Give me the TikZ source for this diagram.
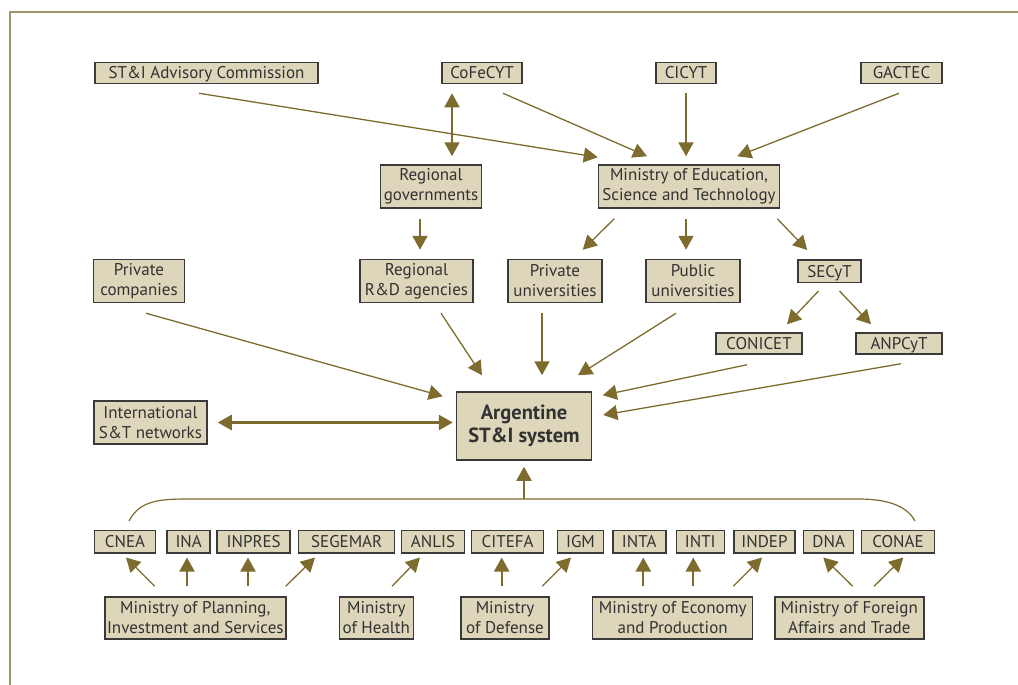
\documentclass[tikz,border=0pt]{standalone}
\usepackage{fontspec}
\setmainfont{PT Sans}
\usetikzlibrary{arrows.meta}

\definecolor{framecol}{RGB}{160,150,108}
\definecolor{arrowcol}{RGB}{125,108,45}
\definecolor{boxfill}{RGB}{221,214,186}
\definecolor{boxline}{RGB}{58,58,58}
\definecolor{boxtext}{RGB}{50,50,50}

\newcommand{\boxfont}{\fontsize{17}{20}\selectfont}
\newcommand{\corefont}{\fontsize{20.5}{23.5}\selectfont\bfseries}

\tikzset{
  box/.style={draw=boxline, fill=boxfill, line width=1.5pt, text=boxtext,
    align=center, inner sep=0pt, font=\boxfont},
  single/.style={box, minimum height=21pt, text height=12pt, text depth=0pt},
  double/.style={box, minimum height=43pt},
  agency/.style={box, minimum height=22.5pt, text height=12pt, text depth=0pt},
  link/.style={draw=arrowcol, line width=1.3pt, -{Triangle[length=14pt,width=15pt]}},
  flow/.style={draw=arrowcol, line width=2pt, -{Triangle[length=14pt,width=15pt]}},
  both/.style={draw=arrowcol, line width=2pt, {Triangle[length=14pt,width=15pt]}-{Triangle[length=14pt,width=15pt]}}
}

\begin{document}
\begin{tikzpicture}[x=1pt,y=-1pt]
  \useasboundingbox (0,0) rectangle (1018,685);
  \draw[framecol, line width=1.5pt] (1018,12) -- (10,12) -- (10,685);

  \node[single, minimum width=223pt] (adv) at (206.5,73) {ST\&I Advisory Commission};
  \node[single, minimum width=80pt] (cof) at (482,73) {CoFeCYT};
  \node[single, minimum width=60pt] (cic) at (686,73) {CICYT};
  \node[single, minimum width=81pt] (gac) at (901.5,73) {GACTEC};

  \node[double, minimum width=101pt] (reg) at (431,186.5) {Regional\\governments};
  \node[double, minimum width=181pt] (edu) at (689,186.5) {Ministry of Education,\\Science and Technology};

  \node[double, minimum width=91pt] (pco) at (139,281) {Private\\companies};
  \node[double, minimum width=113pt] (rnd) at (416.5,281) {Regional\\R\&D agencies};
  \node[double, minimum width=94pt] (puv) at (555,281) {Private\\universities};
  \node[double, minimum width=94pt] (pbu) at (693,281) {Public\\universities};
  \node[agency, minimum width=63pt] (sec) at (829.5,271) {SECyT};

  \node[single, minimum width=86pt] (con) at (759,343.5) {CONICET};
  \node[single, minimum width=86pt] (anp) at (899,343.5) {ANPCyT};

  \node[double, minimum width=113pt] (int) at (150.5,422.5) {International\\S\&T networks};
  \node[box, font=\corefont, minimum width=135pt, minimum height=68pt] (arg) at (524,426) {Argentine\\ST\&I system};

  \node[agency, minimum width=61pt] (cnea) at (125,541.5) {CNEA};
  \node[agency, minimum width=43pt] (ina) at (188.7,541.5) {INA};
  \node[agency, minimum width=73pt] (inpres) at (253.7,541.5) {INPRES};
  \node[agency, minimum width=96pt] (seg) at (346.7,541.5) {SEGEMAR};
  \node[agency, minimum width=63pt] (anlis) at (433,541.5) {ANLIS};
  \node[agency, minimum width=72pt] (citefa) at (507.7,541.5) {CITEFA};
  \node[agency, minimum width=46pt] (igm) at (580.5,541.5) {IGM};
  \node[agency, minimum width=53pt] (inta) at (639.3,541.5) {INTA};
  \node[agency, minimum width=48pt] (inti) at (700.3,541.5) {INTI};
  \node[agency, minimum width=61pt] (indep) at (764.5,541.5) {INDEP};
  \node[agency, minimum width=50pt] (dna) at (828.7,541.5) {DNA};
  \node[agency, minimum width=73pt] (conae) at (898,541.5) {CONAE};

  \node[double, minimum width=181pt, minimum height=42pt] (plan) at (195.3,618) {Ministry of Planning,\\Investment and Services};
  \node[double, minimum width=74pt, minimum height=42pt] (hea) at (376.3,618) {Ministry\\of Health};
  \node[double, minimum width=88pt, minimum height=42pt] (def) at (505,618) {Ministry\\of Defense};
  \node[double, minimum width=160pt, minimum height=42pt] (eco) at (672.7,618) {Ministry of Economy\\and Production};
  \node[double, minimum width=149pt, minimum height=42pt] (for) at (849.3,618) {Ministry of Foreign\\Affairs and Trade};

  \draw[link] ([xshift=-7.5pt,yshift=-9pt]adv.south) -- ([yshift=7pt]edu.north west);
  \draw[link] ([xshift=21pt,yshift=-9pt]cof.south) -- ([xshift=-42pt,yshift=8pt]edu.north);
  \draw[flow] ([yshift=-9pt]cic.south) -- ([yshift=8pt]cic.south |- edu.north);
  \draw[link] ([xshift=-2.5pt,yshift=-9pt]gac.south) -- ([xshift=-43pt,yshift=8pt]edu.north east);
  \draw[both] ([xshift=-30pt,yshift=-9pt]cof.south) -- ([xshift=-30pt,yshift=8pt]cof.south |- reg.north);

  \draw[flow] ([xshift=-11pt,yshift=-10pt]reg.south) -- ([xshift=-11pt,yshift=9pt]reg.south |- rnd.north);
  \draw[link] ([xshift=16.5pt,yshift=-10pt]edu.south west) -- ([xshift=-20pt,yshift=9pt]puv.north east);
  \draw[flow] ([xshift=-3pt,yshift=-10pt]edu.south) -- ([xshift=-3pt,yshift=9pt]edu.south |- pbu.north);
  \draw[link] ([xshift=-3pt,yshift=-10pt]edu.south east) -- ([xshift=10pt,yshift=9pt]sec.north west);

  \draw[link] ([xshift=-11pt,yshift=-8pt]sec.south) -- ([xshift=28pt,yshift=8pt]con.north);
  \draw[link] ([xshift=10pt,yshift=-8pt]sec.south) -- ([xshift=-28pt,yshift=8pt]anp.north);

  \draw[link] ([xshift=7pt,yshift=-10pt]pco.south) -- ([xshift=-13pt,yshift=-5pt]arg.north west);
  \draw[link] ([xshift=24.5pt,yshift=-10pt]rnd.south) -- ([xshift=-42pt,yshift=16pt]arg.north);
  \draw[flow] ([xshift=-13pt,yshift=-10pt]puv.south) -- ([xshift=-13pt,yshift=16pt]puv.south |- arg.north);
  \draw[link] ([xshift=-17pt,yshift=-10pt]pbu.south) -- ([xshift=54pt,yshift=16pt]arg.north);
  \draw[link] ([xshift=-12pt,yshift=-10pt]con.south) -- ([xshift=10.5pt,yshift=-4pt]arg.north east);
  \draw[link] ([xshift=2pt,yshift=-9pt]anp.south) -- ([xshift=11pt,yshift=11pt]arg.east);
  \draw[both, line width=2.6pt] ([xshift=10pt]int.east) -- ([xshift=-3pt]int.east -| arg.west);

  \coordinate (bl) at (129,521);
  \coordinate (br) at (915,521);
  \coordinate (bm) at (524,499);
  \draw[arrowcol, line width=1.2pt] (bl) .. controls (140,500) and (160,499) .. (190,499) -- (858,499) .. controls (892,499) and (908,508) .. (br);
  \draw[flow] (bm) -- ([yshift=-6pt]arg.south);

  \draw[link] ([xshift=-40.6pt,yshift=10pt]plan.north) -- ([xshift=1pt,yshift=-4pt]cnea.south);
  \draw[flow] ([xshift=-1.7pt,yshift=10pt]ina.south |- plan.north) -- ([xshift=-1.7pt,yshift=-4pt]ina.south);
  \draw[flow] ([xshift=-5.7pt,yshift=10pt]inpres.south |- plan.north) -- ([xshift=-5.7pt,yshift=-4pt]inpres.south);
  \draw[link] ([xshift=90.4pt,yshift=10pt]plan.north) -- ([xshift=-31.7pt,yshift=-4pt]seg.south);
  \draw[link] ([xshift=15.7pt,yshift=10pt]hea.north) -- ([xshift=-13pt,yshift=-4pt]anlis.south);
  \draw[flow] ([xshift=-6pt,yshift=10pt]citefa.south |- def.north) -- ([xshift=-6pt,yshift=-4pt]citefa.south);
  \draw[link] ([xshift=37.3pt,yshift=10pt]def.north) -- ([xshift=-9.5pt,yshift=-4pt]igm.south);
  \draw[flow] ([xshift=4pt,yshift=10pt]inta.south |- eco.north) -- ([xshift=4pt,yshift=-4pt]inta.south);
  \draw[flow] ([xshift=-7pt,yshift=10pt]inti.south |- eco.north) -- ([xshift=-7pt,yshift=-4pt]inti.south);
  \draw[link] ([xshift=60.6pt,yshift=10pt]eco.north) -- ([xshift=-2.5pt,yshift=-4pt]indep.south);
  \draw[link] ([xshift=3.4pt,yshift=10pt]for.north) -- ([xshift=-5.4pt,yshift=-4pt]dna.south);
  \draw[link] ([xshift=24.7pt,yshift=10pt]for.north) -- ([xshift=5.3pt,yshift=-4pt]conae.south);
\end{tikzpicture}
\end{document}
